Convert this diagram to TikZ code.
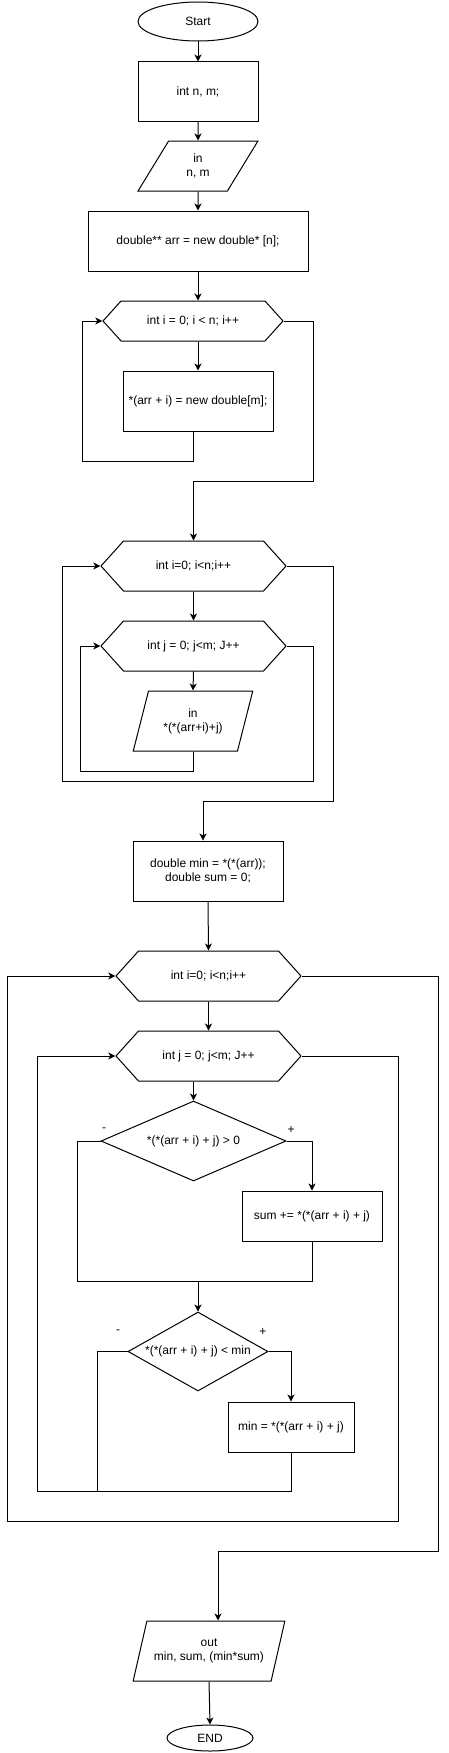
\documentclass[tikz,border=0pt]{standalone}
\usepackage{fontspec}
\setmainfont{Liberation Sans}
\usetikzlibrary{shapes.geometric,shapes.symbols,arrows.meta}

\tikzset{
  procbox/.style={draw, rectangle, align=center, inner sep=0pt},
  termbox/.style={draw, ellipse, inner sep=0pt},
  iobox/.style={draw, trapezium, trapezium left angle=63.4, trapezium right angle=116.6,
    trapezium stretches=true, align=center, inner sep=0pt},
  cyclebox/.style={draw, signal, signal to=west and east, signal pointer angle=96,
    minimum width=185, minimum height=50, inner sep=0pt},
  condbox/.style={draw, diamond, inner sep=0pt},
  arr/.style={-{Stealth[length=7pt,width=7pt,inset=2pt]}}
}

\begin{document}
\begin{tikzpicture}[x=1pt, y=-1pt, line width=1pt, font=\fontsize{12}{14}\selectfont]
    \useasboundingbox (0,0) rectangle (448,1753);

    % input and allocation
    \node[termbox, minimum width=120, minimum height=39] (start) at (198,21.5) {Start};
    \node[procbox, minimum width=120, minimum height=59] (decl) at (198,91.5) {int n, m;};
    \node[iobox, minimum width=120, minimum height=50] (inp) at (198,166) {in\\n, m};
    \node[procbox, minimum width=220, minimum height=60] (alloc) at (198,241) {double** arr = new double* [n];};
    \node[cyclebox, minimum width=180, minimum height=40] (fori1) at (193,321) {int i = 0; i < n; i++};
    \node[procbox, minimum width=150, minimum height=60] (rowalloc) at (198,401) {*(arr + i) = new double[m];};

    % reading the array
    \node[cyclebox] (fori2) at (193.5,566) {int i=0; i<n;i++};
    \node[cyclebox] (forj1) at (193.5,646) {int j = 0; j<m; J++};
    \node[iobox, trapezium left angle=68, trapezium right angle=112,
      minimum width=120, minimum height=60] (inarr) at (193,721) {in\\{}*(*(arr+i)+j)};

    % min and sum
    \node[procbox, minimum width=150, minimum height=60] (init) at (208,871) {double min = *(*(arr));\\double sum = 0;};
    \node[cyclebox] (fori3) at (208.5,976) {int i=0; i<n;i++};
    \node[cyclebox] (forj2) at (208.5,1056) {int j = 0; j<m; J++};
    \node[condbox, minimum width=185, minimum height=80] (dpos) at (193.5,1141) {\makebox[0pt]{*(*(arr + i) + j) > 0}};
    \node (dposno) at (104,1130) {-};
    \node (dposyes) at (291,1130) {+};
    \node[procbox, minimum width=140, minimum height=50] (addsum) at (312,1216) {sum += *(*(arr + i) + j)};
    \node[condbox, minimum width=140, minimum height=79] (dmin) at (198,1351.5) {\makebox[0pt]{*(*(arr + i) + j) < min}};
    \node (dminno) at (118,1332) {-};
    \node (dminyes) at (263,1332) {+};
    \node[procbox, minimum width=126, minimum height=50] (setmin) at (291,1427) {min = *(*(arr + i) + j)};

    % output
    \node[iobox, minimum width=152, minimum height=60] (outp) at (209,1651) {out\\min, sum, (min*sum)};
    \node[termbox, minimum width=86, minimum height=26] (stop) at (210,1738) {END};

    \draw[arr] (start) -- (decl);
    \draw[arr] (decl) -- (inp);
    \draw[arr] (inp) -- (alloc);
    \draw[arr] (alloc.south) -- (alloc.south |- fori1.north);
    \draw[arr] (rowalloc.north |- fori1.south) -- (rowalloc.north);
    \draw[arr] (rowalloc.south -| fori1) -- ++(0,30) -| ([xshift=-20]fori1.west) -- (fori1.west);
    \draw[arr] (fori1.east) -- ++(30,0) -- ++(0,160) -| (fori2.north);

    \draw[arr] (fori2.south) -- (forj1.north);
    \draw[arr] (forj1.south) -- (inarr.north);
    \draw[arr] (inarr.south) -- ++(0,20) -| ([xshift=-20]forj1.west) -- (forj1.west);
    \draw[arr] (forj1.east) -- ++(27,0) -- ++(0,135) -| ([xshift=-38]fori2.west) -- (fori2.west);
    \draw[arr] (fori2.east) -- ++(47,0) -- ++(0,235) -| ([xshift=-5]init.north);

    \draw[arr] (init.south) -- (fori3.north);
    \draw[arr] (fori3.south) -- (forj2.north);
    \draw[arr] (dpos.north |- forj2.south) -- (dpos.north);
    \draw[arr] (dpos.east) -| (addsum.north);
    \coordinate (merge) at (198,1281);
    \draw (dpos.west) -- ++(-23,0) |- (merge) -| (addsum.south);
    \draw[arr] (merge) -- (dmin.north);
    \draw[arr] (dmin.east) -| (setmin.north);
    \draw (dmin.west) -- ++(-30,0) -- ++(0,140);
    \draw[arr] (setmin.south) -- ++(0,39) -| ([xshift=-78]forj2.west) -- (forj2.west);
    \draw[arr] (forj2.east) -- ++(97,0) -- ++(0,465) -| ([xshift=-108]fori3.west) -- (fori3.west);
    \draw[arr] (fori3.east) -- ++(137,0) -- ++(0,575) -| ([xshift=9]outp.north);
    \draw[arr] (outp.south) -- (stop.north);
\end{tikzpicture}
\end{document}
